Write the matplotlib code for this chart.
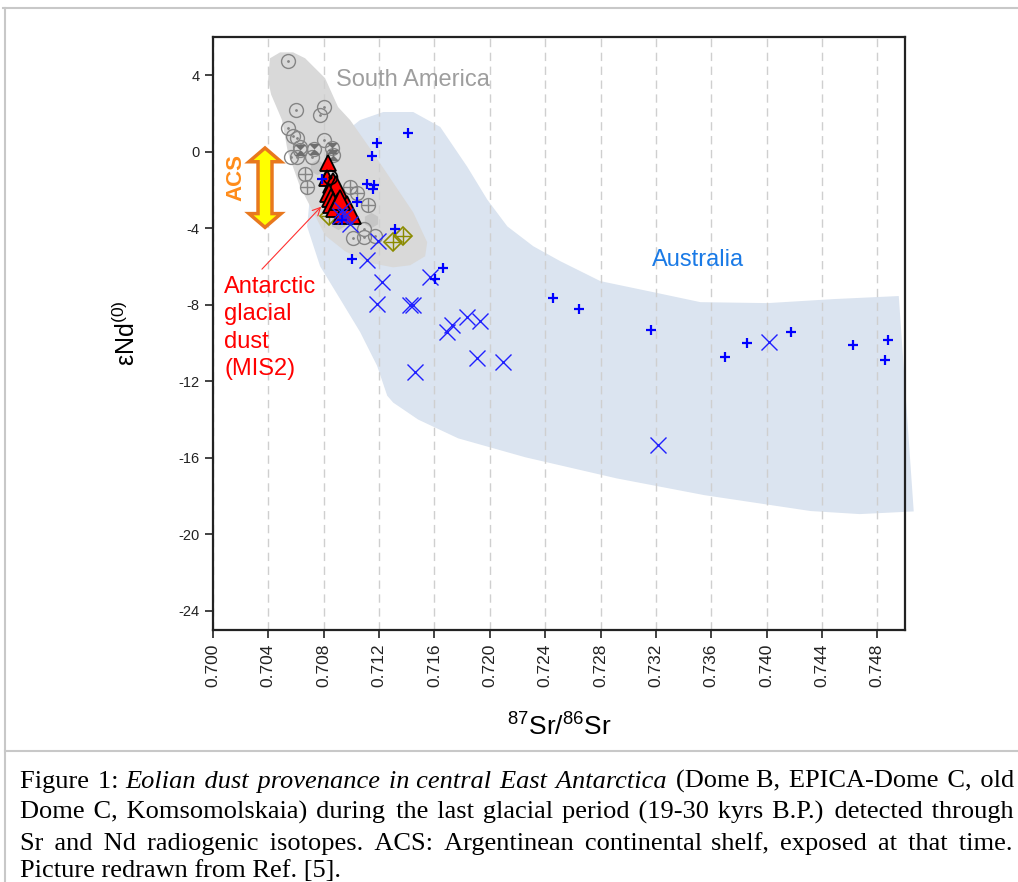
import matplotlib
matplotlib.use("Agg")
import matplotlib.pyplot as plt
from matplotlib.patches import Polygon
import numpy as np

plt.rcParams['font.family'] = ['Liberation Sans', 'DejaVu Sans']
plt.rcParams['mathtext.default'] = 'regular'

# Source-area fields (87Sr/86Sr, eps Nd)
south_america_sr = [0.70579, 0.70666, 0.70810, 0.70904, 0.70991, 0.71157, 0.71302, 0.71447, 0.71548,
                    0.71533, 0.71425, 0.71302, 0.71114, 0.70955, 0.70810, 0.70752, 0.70629, 0.70542,
                    0.70499, 0.70420, 0.70398, 0.70412, 0.70485]
south_america_nd = [5.20, 4.89, 3.85, 2.34, 1.66, -0.05, -1.61, -3.17, -4.73,
                    -5.46, -5.93, -6.04, -5.78, -5.20, -4.37, -3.54, -1.82, -0.05,
                    1.66, 3.00, 3.75, 4.89, 5.20]

australia_sr = [0.71063, 0.71230, 0.71447, 0.71642, 0.71837, 0.71982, 0.72127, 0.72315, 0.72510,
                0.72799, 0.73183, 0.73522, 0.74007, 0.74484, 0.74955, 0.75063,
                0.74673, 0.74318, 0.73551, 0.72915, 0.72257, 0.71772, 0.71483, 0.71302,
                0.71259, 0.71186, 0.71063, 0.70919, 0.70774, 0.70680, 0.70716, 0.70882]
australia_nd = [1.66, 2.08, 2.08, 1.30, -0.78, -2.50, -3.90, -4.94, -5.72,
                -6.76, -7.34, -7.86, -7.91, -7.70, -7.54, -18.80,
                -18.94, -18.78, -17.95, -17.07, -15.97, -14.98, -14.00, -13.11,
                -12.75, -11.19, -9.42, -7.70, -5.98, -3.90, -1.20, 0.62]

# Australian samples, two data sets
aus_plus_sr = [0.71410, 0.71186, 0.71150, 0.71114, 0.71165, 0.71157, 0.71042, 0.70933, 0.70788,
               0.71316, 0.71005, 0.71664, 0.71606, 0.72459, 0.72647, 0.73168, 0.73696, 0.73862,
               0.74173, 0.74622, 0.74875, 0.74853]
aus_plus_nd = [0.99, 0.47, -0.21, -1.66, -1.72, -1.93, -2.60, -3.59, -1.40,
               -4.06, -5.62, -6.09, -6.66, -7.65, -8.22, -9.31, -10.72, -9.99,
               -9.42, -10.09, -9.83, -10.87]

aus_x_sr = [0.71193, 0.71114, 0.71222, 0.71186, 0.71425, 0.71447, 0.71570, 0.71729, 0.71693,
            0.71837, 0.71931, 0.71910, 0.72098, 0.71461, 0.70991, 0.70933, 0.70955, 0.70919,
            0.74014, 0.73212]
aus_x_nd = [-4.68, -5.67, -6.82, -7.96, -8.01, -8.01, -6.56, -9.05, -9.42,
            -8.64, -8.85, -10.77, -10.98, -11.50, -3.80, -3.02, -3.38, -3.38,
            -9.94, -15.35]

# South American samples
sa_dot_sr = [0.70542, 0.70600, 0.70803, 0.70774, 0.70542, 0.70579, 0.70608, 0.70629, 0.70564,
             0.70608, 0.70716, 0.70803, 0.71013, 0.71092, 0.71092, 0.71172]
sa_dot_nd = [4.73, 2.19, 2.34, 1.93, 1.25, 0.83, 0.73, 0.26, -0.26,
             -0.26, -0.26, 0.62, -4.53, -4.01, -4.47, -4.42]

sa_cross_sr = [0.70666, 0.70680, 0.70991, 0.71042, 0.71121]
sa_cross_nd = [-1.14, -1.82, -1.82, -2.13, -2.76]

sa_half_sr = [0.70731, 0.70861, 0.70868, 0.70629]
sa_half_nd = [0.16, 0.21, -0.16, 0.10]

sa_hex_sr = [0.70752, 0.71143, 0.70904]
sa_hex_nd = [-0.78, -3.59, -3.69]

acs_sr = [0.70839, 0.71302, 0.71374]
acs_nd = [-3.38, -4.73, -4.42]

# Antarctic glacial dust (MIS2)
dust_sr = [0.70832, 0.70825, 0.70868, 0.70890, 0.70839, 0.70854, 0.70868, 0.70904, 0.70969, 0.70919]
dust_nd = [-0.57, -1.35, -1.61, -1.87, -2.13, -2.39, -2.65, -2.76, -3.02, -2.50]
dust_size = [11, 12, 15, 17, 13, 13, 15, 17, 20, 15]

black_sr = [0.70846]
black_nd = [-1.30]

x_ticks = np.arange(0.700, 0.7485, 0.004)
y_ticks = [-24, -20, -16, -12, -8, -4, 0, 4]

caption = [
    [("Figure 1:", 'normal'), ("Eolian dust provenance in central East Antarctica", 'italic'),
     ("(Dome B, EPICA-Dome C, old", 'normal')],
    [("Dome C, Komsomolskaia) during the last glacial period (19-30 kyrs B.P.) detected through", 'normal')],
    [("Sr and Nd radiogenic isotopes. ACS: Argentinean continental shelf, exposed at that time.", 'normal')],
    [("Picture redrawn from Ref. [5].", 'normal')],
]

fig = plt.figure(figsize=(10.18, 8.82), dpi=100)
ax = fig.add_axes([0.2092, 0.2857, 0.6798, 0.6723])

ax.add_patch(Polygon(np.column_stack([australia_sr, australia_nd]), closed=True,
                     facecolor='#dbe4f0', edgecolor='none', zorder=0.2, clip_on=False))
ax.add_patch(Polygon(np.column_stack([south_america_sr, south_america_nd]), closed=True,
                     facecolor='#d9d9d9', edgecolor='none', zorder=0.3))

grey = '#858585'
ax.plot(sa_hex_sr, sa_hex_nd, 'h', ms=11, mfc='#c6c6c6', mec='none', zorder=2)
ax.plot(sa_dot_sr, sa_dot_nd, 'o', ms=10, mfc='none', mec=grey, mew=1.0, zorder=3)
ax.plot(sa_dot_sr, sa_dot_nd, '.', ms=2, color=grey, zorder=3)
ax.plot(sa_cross_sr, sa_cross_nd, 'o', ms=10, mfc='none', mec=grey, mew=1.0, zorder=3)
ax.plot(sa_cross_sr, sa_cross_nd, '+', ms=10, color=grey, mew=1.0, zorder=3)
bowtie = [(-0.7, 0.7), (0.7, 0.7), (0, 0), (0.7, -0.7), (-0.7, -0.7), (0, 0)]
ax.plot(sa_half_sr, sa_half_nd, 'o', ms=10, mfc='none', mec=grey, mew=1.0, zorder=3)
ax.plot(sa_half_sr, sa_half_nd, marker=bowtie, ls='none', ms=8, mfc='#6e6e6e', mec='none', zorder=3)
ax.plot(acs_sr, acs_nd, 'D', ms=9, mfc='none', mec='#8b8b00', mew=1.2, zorder=3)
ax.plot(acs_sr, acs_nd, '+', ms=11, color='#8b8b00', mew=1.0, zorder=3)

for sr, nd, s in zip(dust_sr, dust_nd, dust_size):
    ax.plot(sr, nd, '^', ms=s, mfc='#ff0000', mec='black', mew=1.3, zorder=4)

ax.plot(black_sr, black_nd, 'o', ms=10, mfc='none', mec='black', mew=1.2, zorder=5)
ax.plot(black_sr, black_nd, '.', ms=4, color='black', zorder=5)

ax.plot(aus_x_sr, aus_x_nd, 'x', ms=11, color='#2020ff', mew=1.0, zorder=6)
ax.plot(aus_plus_sr, aus_plus_nd, '+', ms=7, color='#0000ff', mew=1.6, zorder=6)

# ACS double arrow
ax_x, y_lo, y_hi = 0.70376, -3.95, 0.20
bw, hw, hl = 0.00101, 0.00232, 0.72
arrow = [(ax_x, y_hi), (ax_x + hw / 2, y_hi - hl), (ax_x + bw / 2, y_hi - hl),
         (ax_x + bw / 2, y_lo + hl), (ax_x + hw / 2, y_lo + hl), (ax_x, y_lo),
         (ax_x - hw / 2, y_lo + hl), (ax_x - bw / 2, y_lo + hl), (ax_x - bw / 2, y_hi - hl),
         (ax_x - hw / 2, y_hi - hl)]
ax.add_patch(Polygon(arrow, closed=True, facecolor='#ffff00', edgecolor='#e8781e',
                     lw=2.5, joinstyle='miter', zorder=5))
ax.text(0.70166, -1.35, 'ACS', color='#ff8c1a', fontsize=16, fontweight='bold',
        rotation=90, ha='center', va='center', zorder=6)

ax.text(0.71447, 3.75, 'South America', color='#9e9e9e', fontsize=17, ha='center', va='center', zorder=6)
ax.text(0.73508, -5.65, 'Australia', color='#1a7ae6', fontsize=17, ha='center', va='center', zorder=6)
ax.text(0.70080, -6.5, 'Antarctic\nglacial\ndust\n(MIS2)', color='#ff0000', fontsize=17,
        ha='left', va='top', linespacing=1.31, zorder=6)
ax.annotate('', xy=(0.70796, -2.76), xytext=(0.70340, -6.24),
            arrowprops=dict(arrowstyle='->', color='#ff3030', lw=0.8, mutation_scale=14), zorder=6)

ax.set_xlim(0.700, 0.750)
ax.set_ylim(-25, 6)
ax.set_xticks(x_ticks)
ax.set_xticklabels(['%.3f' % v for v in x_ticks], rotation=90, fontsize=12.5)
ax.set_yticks(y_ticks)
ax.set_yticklabels([str(v) for v in y_ticks], fontsize=10.5)
ax.tick_params(direction='out', length=6, width=1.2, colors='#222222')
ax.set_axisbelow(True)
ax.grid(axis='x', color='#cfcfcf', lw=1.0, ls=(0, (6, 4)), zorder=0.5)
for sp in ax.spines.values():
    sp.set_linewidth(1.6)
    sp.set_color('#222222')

ax.set_xlabel(r'$^{87}$Sr/$^{86}$Sr', fontsize=19)
ax.xaxis.set_label_coords(0.501, -0.14)
ax.set_ylabel(r'ε$Nd^{(0)}$', fontsize=18)
ax.yaxis.set_label_coords(-0.105, 0.5)

# page frame around the figure and caption
W, H = 1018.0, 882.0
fig.add_artist(plt.Line2D([3 / W, 1], [1 - 8 / H, 1 - 8 / H], color='#c8c8c8', lw=1.5))
fig.add_artist(plt.Line2D([5 / W, 5 / W], [0, 1 - 8 / H], color='#c8c8c8', lw=1.5))
fig.add_artist(plt.Line2D([5 / W, 1], [1 - 751 / H, 1 - 751 / H], color='#c8c8c8', lw=1.5))

# justified caption: gaps between words padded with hair spaces
cap_left, cap_right = 20.0, 1013.0
baselines = [788, 819, 850, 877]
cap_font = dict(fontsize=19, family=['Liberation Serif', 'DejaVu Serif'])
HAIR = '\u200a'
renderer = fig.canvas.get_renderer()


def text_width(s, style):
    t = fig.text(0, 0, s, style=style, **cap_font)
    w = t.get_window_extent(renderer).width
    t.remove()
    return w


space_w = text_width('a a', 'normal') - text_width('aa', 'normal')
hair_w = text_width('a' + HAIR * 20 + 'a', 'normal') - text_width('aa', 'normal')
hair_w /= 20.0

for i, (line, base) in enumerate(zip(caption, baselines)):
    segs = [(chunk.split(' '), style) for chunk, style in line]
    n_gaps = sum(len(w) for w, _ in segs) - 1
    natural = sum(text_width(w, st) for words, st in segs for w in words)
    extra = 0.0
    if i < len(caption) - 1:
        extra = (cap_right - cap_left - natural) / n_gaps - space_w
    pads = []
    acc = 0.0
    for g in range(n_gaps):
        acc += extra
        k = int(round(acc / hair_w)) if hair_w > 0 else 0
        acc -= k * hair_w
        pads.append(max(k, 0))
    x = cap_left
    g = 0
    for words, st in segs:
        s = words[0]
        for w in words[1:]:
            s += ' ' + HAIR * pads[g] + w
            g += 1
        t = fig.text(x / W, 1 - base / H, s, style=st, ha='left', va='baseline', **cap_font)
        x += t.get_window_extent(renderer).width
        if g < n_gaps:
            x += space_w + pads[g] * hair_w
            g += 1

fig.savefig('out.png', dpi=100)
